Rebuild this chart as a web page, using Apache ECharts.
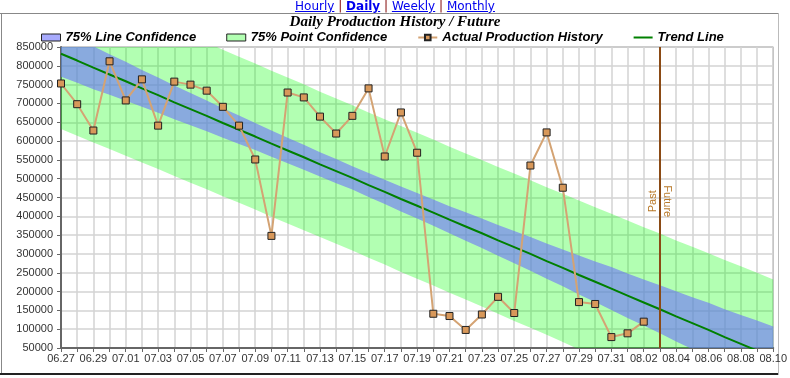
<!DOCTYPE html>
<html><head><meta charset="utf-8">
<script src="https://cdn.jsdelivr.net/npm/echarts@6/dist/echarts.min.js"></script>
<style>
html,body{margin:0;padding:0;background:#fff;width:790px;height:378px;overflow:hidden;}
#chart{position:absolute;left:0;top:0;width:790px;height:378px;}
#nav{position:absolute;left:0;top:-1px;width:790px;text-align:center;font-family:"DejaVu Sans",Verdana,sans-serif;font-size:12px;line-height:14px;z-index:2;}
#nav a{color:#0000ee;text-decoration:underline;}
#nav a.cur{font-weight:bold;}
#nav .sep{color:#800000;}
</style></head>
<body>
<div id="chart"></div>
<div id="nav"><a href="#">Hourly</a> <span class="sep">|</span> <a class="cur" href="#">Daily</a> <span class="sep">|</span> <a href="#">Weekly</a> <span class="sep">|</span> <a href="#">Monthly</a></div>
<script>
// ---- data ----
const categories = ['06.27','06.28','06.29','06.30','07.01','07.02','07.03','07.04','07.05','07.06',
  '07.07','07.08','07.09','07.10','07.11','07.12','07.13','07.14','07.15','07.16','07.17','07.18',
  '07.19','07.20','07.21','07.22','07.23','07.24','07.25','07.26','07.27','07.28','07.29','07.30',
  '07.31','08.01','08.02','08.03','08.04','08.05','08.06','08.07','08.08','08.09','08.10'];

const actualProduction = [753000,698000,628000,812000,708000,764000,641000,758000,750000,734000,
  691000,641000,551000,348000,729000,716000,665000,620000,667000,740000,559000,676000,
  569000,141000,135000,98000,139000,186000,143000,535000,623000,476000,172000,167000,
  79000,89000,120000];

const trendLine = [832000,814000,795000,777000,759000,740000,722000,703000,685000,667000,
  648000,630000,612000,593000,575000,557000,538000,520000,502000,483000,465000,446000,
  428000,410000,391000,373000,355000,336000,318000,300000,281000,263000,244000,226000,
  208000,189000,171000,153000,134000,116000,98000,79000,61000,43000,24000];

const lineBandHalf = [61000,59000,57000,54000,52000,49000,47000,45000,43000,41000,
  39000,38000,36000,35000,34000,33000,32000,32000,31000,32000,32000,33000,
  34000,35000,36000,38000,39000,41000,43000,45000,47000,49000,52000,54000,
  57000,59000,61000,64000,67000,69000,72000,74000,77000,80000,83000];

const pointBandHalf = [200000,200000,199000,198000,198000,197000,196000,196000,196000,195000,
  195000,194000,194000,194000,194000,194000,193000,193000,193000,193000,193000,194000,
  194000,194000,194000,194000,195000,195000,196000,196000,196000,197000,198000,198000,
  199000,200000,200000,201000,202000,203000,204000,205000,206000,207000,208000];

const yMin = 50000, yMax = 850000, yStep = 50000;
const pastFutureDivider = '08.03';

// ---- derived tables ----
const pointLow = trendLine.map((t,i)=>t-pointBandHalf[i]);
const pointSpan = pointBandHalf.map(h=>2*h);
const lineLow = trendLine.map((t,i)=>t-lineBandHalf[i]);
const lineSpan = lineBandHalf.map(h=>2*h);

const FONT = '"Liberation Sans", Arial, sans-serif';
const BLUE = 'rgba(108,113,250,0.6)';
const GREEN = 'rgba(0,255,0,0.3)';
const chart = echarts.init(document.getElementById('chart'), null, {renderer:'canvas'});

const bandBase = {type:'line', symbol:'none', silent:true, stackStrategy:'all',
  lineStyle:{width:0, opacity:0}, emphasis:{disabled:true}};

chart.setOption({
  animation:false,
  title:{text:'Daily Production History / Future', left:'center', top:15, padding:0,
    textStyle:{fontFamily:'"Liberation Serif", "Times New Roman", serif', fontSize:15,
      fontWeight:'bold', fontStyle:'italic', color:'#000'}},
  legend:{left:41, top:31, padding:0, itemWidth:19, itemHeight:7, itemGap:30, selectedMode:false,
    textStyle:{fontFamily:FONT, fontSize:13, fontWeight:'bold', fontStyle:'italic', color:'#000'},
    data:[
      {name:'75% Line Confidence', icon:'rect', itemStyle:{color:BLUE, borderColor:'#222', borderWidth:1}},
      {name:'75% Point Confidence', icon:'rect', itemStyle:{color:GREEN, borderColor:'#222', borderWidth:1}},
      {name:'Actual Production History'},
      {name:'Trend Line', itemStyle:{opacity:0}, lineStyle:{color:'#008000', width:2, opacity:1}}
    ]},
  grid:{left:61, right:14, top:47, bottom:30, show:true, borderColor:'#777', borderWidth:1},
  xAxis:{type:'category', data:categories, boundaryGap:false,
    axisLine:{lineStyle:{color:'#666', width:2}},
    axisTick:{show:true, interval:0, length:4, lineStyle:{color:'#666', width:1}},
    axisLabel:{interval:1, fontFamily:FONT, fontSize:11, color:'#333', margin:5},
    splitLine:{show:true, interval:0, lineStyle:{color:'#d3d3d3', width:1.5}}},
  yAxis:{type:'value', min:yMin, max:yMax, interval:yStep,
    axisLine:{show:true, lineStyle:{color:'#666', width:2}},
    axisTick:{show:true, length:4, lineStyle:{color:'#666', width:1}},
    axisLabel:{fontFamily:FONT, fontSize:11, color:'#333', margin:8, formatter:v=>String(v)},
    splitLine:{show:true, lineStyle:{color:'#d3d3d3', width:1.5}}},
  series:[
    Object.assign({}, bandBase, {name:'pointBase', stack:'point', data:pointLow}),
    Object.assign({}, bandBase, {name:'75% Point Confidence', stack:'point', data:pointSpan,
      itemStyle:{color:GREEN}, areaStyle:{color:GREEN, opacity:1}}),
    Object.assign({}, bandBase, {name:'lineBase', stack:'line', data:lineLow}),
    Object.assign({}, bandBase, {name:'75% Line Confidence', stack:'line', data:lineSpan,
      itemStyle:{color:BLUE}, areaStyle:{color:BLUE, opacity:1}}),
    {name:'Trend Line', type:'line', data:trendLine, symbol:'none', silent:true,
      itemStyle:{color:'#008000'}, lineStyle:{color:'#008000', width:2}},
    {name:'Actual Production History', type:'line', data:actualProduction,
      symbol:'rect', symbolSize:7, showAllSymbol:true,
      itemStyle:{color:'#d8985a', borderColor:'#222', borderWidth:1},
      lineStyle:{color:'#d4a373', width:2},
      markLine:{silent:true, symbol:'none', label:{show:false},
        lineStyle:{color:'#8b4a14', width:2, type:'solid'},
        data:[{xAxis:pastFutureDivider}]}}
  ]
});

const px = chart.convertToPixel({xAxisIndex:0}, pastFutureDivider);
const py = chart.convertToPixel({yAxisIndex:0}, 440000);
const txt = (s, x, rot) => ({type:'text', x:x, y:py, rotation:rot, silent:true,
  style:{text:s, fill:'#b8792a', font:'11px ' + FONT, textAlign:'center', textVerticalAlign:'middle',
    align:'center', verticalAlign:'middle'}});
chart.setOption({graphic:[
  {type:'line', silent:true, shape:{x1:0, y1:13.5, x2:779, y2:13.5}, style:{stroke:'#888', lineWidth:1}},
  {type:'line', silent:true, shape:{x1:1.5, y1:13, x2:1.5, y2:374}, style:{stroke:'#888', lineWidth:1}},
  {type:'line', silent:true, shape:{x1:0, y1:374, x2:779, y2:374}, style:{stroke:'#222', lineWidth:2}},
  {type:'line', silent:true, shape:{x1:778.5, y1:13, x2:778.5, y2:375}, style:{stroke:'#bbb', lineWidth:1}},
  txt('Past', px - 7, Math.PI/2),
  txt('Future', px + 7, -Math.PI/2)
]});
</script>
</body></html>
